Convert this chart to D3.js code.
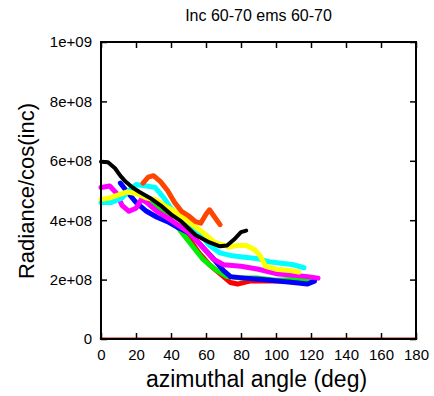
<!DOCTYPE html>
<html><head><meta charset="utf-8">
<script src="https://cdn.jsdelivr.net/npm/d3@7"></script>
<style>body{margin:0;background:#fff}svg{display:block;font-family:"Liberation Sans",Arial,sans-serif}</style>
</head><body>
<svg id="c" width="434" height="396"></svg>
<script>
const title = "Inc 60-70 ems 60-70";
const xLabel = "azimuthal angle (deg)";
const yLabel = "Radiance/cos(inc)";
const xTicks = [0,20,40,60,80,100,120,140,160,180];
const yTicks = [0,2e8,4e8,6e8,8e8,1e9];
const yTickLabels = ["0","2e+08","4e+08","6e+08","8e+08","1e+09"];

// series: [angle, value(1e8)]
const redSeries = [[30,4.6],[40,4.0],[50,3.4],[56,2.9],[62,2.5],[68,2.2],[74,1.9],[78,1.85],[85,1.95],[95,1.95],[105,1.95]];
const greenSeries = [[28,4.6],[36,4.2],[44,3.75],[52,3.15],[58,2.7],[65,2.35],[72,2.1],[80,2.05],[90,2.05],[100,1.98],[110,2.0],[122,2.0]];
const blueSeries = [[11,5.25],[15,4.95],[20,4.6],[26,4.3],[32,4.1],[38,3.95],[44,3.75],[51,3.55],[58,3.1],[65,2.65],[70,2.3],[74,2.1],[82,2.05],[92,2.0],[101,1.95],[110,1.9],[118,1.85],[122,1.95]];
const magentaSeries = [[0,5.1],[5,5.15],[9,4.9],[12,4.5],[16,4.3],[20,4.4],[23,4.7],[26,4.6],[32,4.3],[40,4.0],[50,3.6],[58,3.1],[64,2.7],[70,2.5],[80,2.45],[90,2.35],[100,2.2],[110,2.15],[118,2.1],[124,2.05]];
const cyanSeries = [[0,4.6],[6,4.6],[12,4.75],[16,5.0],[20,5.2],[26,5.15],[31,5.1],[36,4.75],[40,4.4],[48,4.0],[56,3.55],[62,3.15],[68,2.9],[75,2.8],[82,2.75],[90,2.7],[96,2.6],[103,2.55],[110,2.5],[116,2.4]];
const yellowSeries = [[0,4.7],[5,4.75],[10,4.85],[15,4.95],[20,4.9],[26,4.75],[31,4.7],[36,4.5],[42,4.3],[50,3.95],[58,3.6],[65,3.25],[73,3.1],[78,3.15],[83,3.15],[88,3.0],[91,2.8],[94,2.45],[100,2.35],[109,2.3],[113,2.25]];
const orangeSeries = [[24,5.25],[27,5.45],[30,5.5],[34,5.3],[38,5.0],[42,4.6],[46,4.3],[50,4.15],[54,3.95],[57,3.9],[60,4.2],[62,4.35],[65,4.1],[68,3.85]];
const blackSeries = [[0,5.97],[4,5.95],[8,5.75],[11,5.5],[14,5.3],[18,5.1],[22,4.95],[28,4.75],[34,4.5],[40,4.2],[46,3.95],[54,3.5],[62,3.25],[68,3.12],[72,3.15],[76,3.35],[80,3.6],[83,3.65]];
const zeroSeries = [[0,0.02],[180,0.02]];

const seriesList = [
  {data: zeroSeries, color: "#e08a80", w: 3},
  {data: redSeries, color: "#ff0000", w: 5},
  {data: greenSeries, color: "#00ee00", w: 5},
  {data: blueSeries, color: "#0000ff", w: 5},
  {data: magentaSeries, color: "#ff00ff", w: 5},
  {data: cyanSeries, color: "#00ffff", w: 5},
  {data: yellowSeries, color: "#ffff00", w: 5},
  {data: orangeSeries, color: "#ff4500", w: 5},
  {data: blackSeries, color: "#000000", w: 4}
];

const svg = d3.select("#c");
const L = 101, R = 416, T = 42, B = 339;
const x = d3.scaleLinear().domain([0,180]).range([L,R]);
const y = d3.scaleLinear().domain([0,1e9]).range([B,T]);

const line = d3.line().x(d => x(d[0])).y(d => y(d[1]*1e8));
const g = svg.append("g");
seriesList.forEach(s => {
  g.append("path").attr("d", line(s.data)).attr("fill","none")
   .attr("stroke", s.color).attr("stroke-width", s.w)
   .attr("stroke-linejoin","round").attr("stroke-linecap","round");
});

// axes
const fmt = (d) => yTickLabels[yTicks.indexOf(d)];
const ax = svg.append("g").attr("transform",`translate(0,${B})`)
  .call(d3.axisBottom(x).tickValues(xTicks).tickSize(-6).tickPadding(10).tickFormat(d3.format("d")));
const axT = svg.append("g").attr("transform",`translate(0,${T})`)
  .call(d3.axisTop(x).tickValues(xTicks).tickSize(-6).tickFormat(""));
const ay = svg.append("g").attr("transform",`translate(${L},0)`)
  .call(d3.axisLeft(y).tickValues(yTicks).tickSize(-6).tickPadding(9).tickFormat(fmt));
const ayR = svg.append("g").attr("transform",`translate(${R},0)`)
  .call(d3.axisRight(y).tickValues(yTicks).tickSize(-6).tickFormat(""));
[ax,axT,ay,ayR].forEach(a => {
  a.select(".domain").remove();
  a.selectAll(".tick line").attr("stroke","#000").attr("stroke-width",1.5);
  a.selectAll("text").attr("fill","#000").style("font-size","15px").style("font-family","'Liberation Sans',Arial,sans-serif");
});
svg.append("rect").attr("x",L).attr("y",T).attr("width",R-L).attr("height",B-T)
  .attr("fill","none").attr("stroke","#000").attr("stroke-width",2);

svg.append("text").attr("x",(L+R)/2).attr("y",21).attr("text-anchor","middle")
  .style("font-size","16px").text(title);
svg.append("text").attr("x",(L+R)/2-2).attr("y",387).attr("text-anchor","middle")
  .style("font-size","23px").text(xLabel);
svg.append("text").attr("transform",`translate(34,191) rotate(-90)`).attr("text-anchor","middle")
  .style("font-size","22px").text(yLabel);
</script>
</body></html>
